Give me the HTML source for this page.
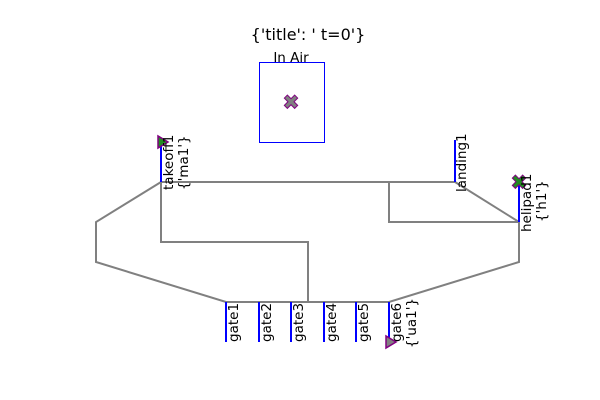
<!DOCTYPE html>
<html><head><meta charset="utf-8"><style>body{margin:0;background:#fff}svg{display:block}</style></head><body>
<svg width="600" height="400" xmlns="http://www.w3.org/2000/svg" font-family="DejaVu Sans, Liberation Sans, sans-serif">
<rect width="600" height="400" fill="#fff"/>
<text x="308" y="40" font-size="16" text-anchor="middle">{'title': ' t=0'}</text>
<text x="291" y="62" font-size="13.5" text-anchor="middle">In Air</text>
<rect x="259.5" y="62.5" width="65" height="80" fill="none" stroke="#00f" stroke-width="1"/>
<g fill="none" stroke="#808080" stroke-width="2">
<polyline points="161,182 455,182"/>
<polyline points="161,182 161,242 308,242 308,302"/>
<polyline points="161,182 96,222 96,262 226,302 389,302 519,262 519,222"/>
<polyline points="389,182 389,222 519,222"/>
<polyline points="455,182 519,222"/>
</g>
<g stroke="#00f" stroke-width="2">
<line x1="161" y1="140" x2="161" y2="182"/>
<line x1="455" y1="140" x2="455" y2="182"/>
<line x1="519" y1="182" x2="519" y2="222"/>
<line x1="226" y1="302" x2="226" y2="342"/>
<line x1="259" y1="302" x2="259" y2="342"/>
<line x1="291" y1="302" x2="291" y2="342"/>
<line x1="324" y1="302" x2="324" y2="342"/>
<line x1="356" y1="302" x2="356" y2="342"/>
<line x1="389" y1="302" x2="389" y2="342"/>
</g>
<polygon points="158,136 158,148 168,142" fill="#228b22" stroke="#800080" stroke-width="1.5"/>
<polygon points="386,336 386,348 396,342" fill="#808080" stroke="#800080" stroke-width="1.5"/>
<g stroke="#800080" stroke-width="1">
<text x="291" y="109" text-anchor="middle" fill="#808080" font-size="20" font-weight="bold">✖</text>
<text x="519" y="189" text-anchor="middle" fill="#228b22" font-size="20" font-weight="bold">✖</text>
</g>
<g font-size="13.5" fill="#000">
<text transform="translate(173,190) rotate(-90)">takeoff1</text>
<text transform="translate(188,190) rotate(-90)">{'ma1'}</text>
<text transform="translate(466,192) rotate(-90)">landing1</text>
<text transform="translate(531,232) rotate(-90)">helipad1</text>
<text transform="translate(546,222) rotate(-90)">{'h1'}</text>
<text transform="translate(238,342) rotate(-90)">gate1</text>
<text transform="translate(271,342) rotate(-90)">gate2</text>
<text transform="translate(303,342) rotate(-90)">gate3</text>
<text transform="translate(336,342) rotate(-90)">gate4</text>
<text transform="translate(368,342) rotate(-90)">gate5</text>
<text transform="translate(401,342) rotate(-90)">gate6</text>
<text transform="translate(416,348) rotate(-90)">{'ua1'}</text>
</g>
</svg>
</body></html>
